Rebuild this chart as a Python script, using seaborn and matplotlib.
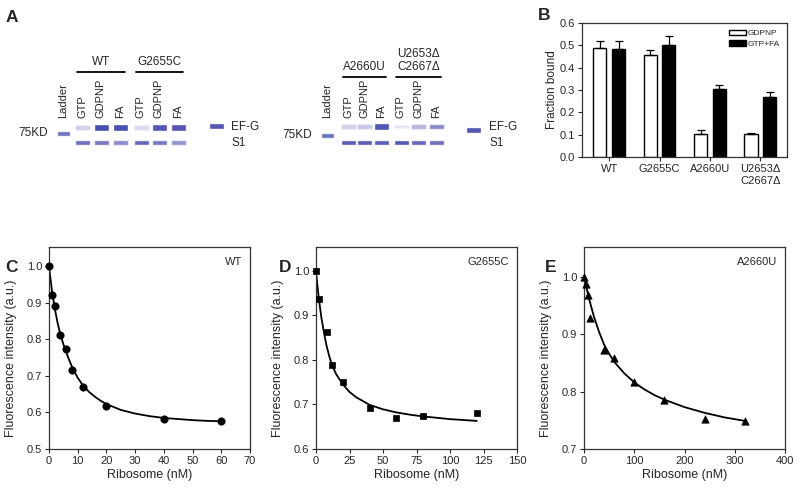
import numpy as np
import pandas as pd
import seaborn as sns
import matplotlib.pyplot as plt

# ---------------- dados ----------------
# painel A: intensidade relativa das bandas do gel (0 = sem banda, 1 = banda forte)
gel_conditions = ['GTP', 'GDPNP', 'FA']
gel_left_groups = ['WT', 'G2655C']
gel_right_groups = ['A2660U', 'U2653Δ\nC2667Δ']
efg_left = [0.25, 1.00, 1.00, 0.20, 0.95, 0.95]
s1_left = [0.80, 0.75, 0.65, 0.85, 0.75, 0.60]
efg_right = [0.25, 0.30, 0.95, 0.15, 0.40, 0.65]
s1_right = [0.90, 0.90, 0.90, 0.95, 0.85, 0.80]
ladder_band = 0.80
efg_marker_band = 0.95

# painel B: fracao ligada
mutants = ['WT', 'G2655C', 'A2660U', 'U2653Δ\nC2667Δ']
gdpnp = [0.490, 0.455, 0.105, 0.105]
gdpnp_err = [0.030, 0.024, 0.015, 0.003]
gtp_fa = [0.485, 0.500, 0.306, 0.270]
gtp_fa_err = [0.035, 0.040, 0.015, 0.021]

# painel C: WT
wt_x = [0, 1, 2, 4, 6, 8, 12, 20, 40, 60]
wt_y = [1.000, 0.922, 0.892, 0.811, 0.774, 0.715, 0.670, 0.619, 0.583, 0.578]
wt_fit_x = [0, 1, 2, 3, 4, 5, 6, 7, 8, 10, 12, 14, 16, 18, 20, 25, 30, 35, 40, 45, 50, 55, 60]
wt_fit_y = [1.000, 0.935, 0.885, 0.845, 0.812, 0.787, 0.765, 0.744, 0.725, 0.695, 0.672,
            0.656, 0.643, 0.632, 0.623, 0.607, 0.597, 0.590, 0.585, 0.582, 0.579, 0.577, 0.576]

# painel D: G2655C
g_x = [0, 2, 8, 12, 20, 40, 60, 80, 120]
g_y = [1.000, 0.937, 0.863, 0.789, 0.750, 0.693, 0.670, 0.675, 0.680]
g_fit_x = [0, 1, 2, 4, 6, 8, 10, 12, 15, 20, 25, 30, 40, 50, 60, 70, 80, 100, 120]
g_fit_y = [1.000, 0.968, 0.940, 0.895, 0.860, 0.830, 0.807, 0.788, 0.768, 0.745, 0.728,
           0.716, 0.699, 0.689, 0.682, 0.677, 0.673, 0.667, 0.663]

# painel E: A2660U
a_x = [0, 4, 8, 12, 40, 60, 100, 160, 240, 320]
a_y = [1.000, 0.988, 0.969, 0.929, 0.873, 0.859, 0.816, 0.785, 0.752, 0.748]
a_fit_x = [0, 10, 20, 30, 40, 50, 60, 80, 100, 120, 140, 160, 200, 240, 280, 320]
a_fit_y = [1.000, 0.962, 0.930, 0.904, 0.882, 0.866, 0.852, 0.832, 0.816, 0.804, 0.794,
           0.786, 0.773, 0.763, 0.755, 0.749]

# ---------------- estilo ----------------
sns.set_style('ticks')
plt.rcParams['font.family'] = ['Liberation Sans', 'DejaVu Sans']
plt.rcParams['axes.edgecolor'] = '#333333'
plt.rcParams['axes.linewidth'] = 0.9
plt.rcParams['xtick.major.size'] = 3
plt.rcParams['ytick.major.size'] = 3
plt.rcParams['xtick.major.width'] = 0.8
plt.rcParams['ytick.major.width'] = 0.8
plt.rcParams['xtick.labelsize'] = 8
plt.rcParams['ytick.labelsize'] = 8
plt.rcParams['xtick.major.pad'] = 2
plt.rcParams['ytick.major.pad'] = 2

BAND = '#4a4eae'


def desenhar_gel(ax, lanes, efg, s1, groups, ladder_x, ladder_y, marker_x, marker_y,
                 row_efg, row_s1, group_y, line_y, label_x):
    # bandas
    ax.bar(ladder_x, 5, bottom=ladder_y - 2.5, width=13, color=BAND, alpha=ladder_band)
    for x, a in zip(lanes, efg):
        h = 3.5 + 3 * a  # bandas fracas ficam mais finas
        ax.bar(x, h, bottom=row_efg - h / 2, width=15, color=BAND, alpha=a)
    for x, a in zip(lanes, s1):
        ax.bar(x, 5.5, bottom=row_s1 - 2.75, width=15, color=BAND, alpha=a)
    ax.bar(marker_x, 6, bottom=marker_y - 3, width=15, color=BAND, alpha=efg_marker_band)

    # nomes das pistas
    ax.text(ladder_x, 118, 'Ladder', rotation=90, ha='center', va='bottom', fontsize=8)
    for x, cond in zip(lanes, gel_conditions * 2):
        ax.text(x, 118, cond, rotation=90, ha='center', va='bottom', fontsize=8)

    # grupos com barra por cima
    for i, g in enumerate(groups):
        xs = lanes[i * 3:(i + 1) * 3]
        ax.plot([xs[0] - 5, xs[-1] + 5], [line_y, line_y], color='black', lw=1.3)
        ax.text(np.mean(xs), group_y, g, ha='center', va='bottom', fontsize=8.5,
                linespacing=1.15)

    ax.text(ladder_x - 15, ladder_y, '75KD', ha='right', va='center', fontsize=8.5)
    ax.text(label_x, row_efg, 'EF-G', ha='left', va='center', fontsize=8.5)
    ax.text(label_x, row_s1 + 1, 'S1', ha='left', va='center', fontsize=8.5)


def grafico_barras(fig):
    ax = fig.add_axes([582 / 800, 1 - 157 / 488, 205 / 800, 134 / 488])
    df = pd.DataFrame({
        'Mutante': mutants * 2,
        'Fracao': gdpnp + gtp_fa,
        'Condicao': ['GDPNP'] * 4 + ['GTP+FA'] * 4,
    })
    sns.barplot(data=df, x='Mutante', y='Fracao', hue='Condicao', palette=['white', 'black'],
                edgecolor='black', linewidth=1, width=0.74, gap=0.3, errorbar=None, ax=ax)
    for cont, err in zip(ax.containers, [gdpnp_err, gtp_fa_err]):
        xs = [p.get_x() + p.get_width() / 2 for p in cont]
        ys = [p.get_height() for p in cont]
        ax.errorbar(xs, ys, yerr=[np.zeros(len(err)), err], fmt='none', ecolor='black',
                    elinewidth=0.9, capsize=3, capthick=0.9)
    ax.set_xlim(-0.54, 3.53)
    ax.set_ylim(0, 0.6)
    ax.set_yticks(np.arange(0, 0.61, 0.1))
    ax.set_xlabel('')
    ax.set_ylabel('Fraction bound', fontsize=8.5, labelpad=1)
    ax.tick_params(axis='x', labelsize=8)
    ax.legend(loc='upper right', frameon=False, fontsize=6, handlelength=2.0,
              handleheight=0.7, handletextpad=0.3, labelspacing=0.3,
              borderaxespad=0.4, title=None)


def grafico_curva(fig, left, x, y, fx, fy, marker, msize, xlim, xticks, ylim, yticks, nome):
    ax = fig.add_axes([left / 800, 1 - 449 / 488, 201 / 800, 202 / 488])
    sns.lineplot(x=fx, y=fy, color='black', lw=1.3, ax=ax)
    sns.scatterplot(x=x, y=y, marker=marker, s=msize, color='black', edgecolor='black',
                    linewidth=0.5, zorder=3, clip_on=False, ax=ax)
    ax.set_xlim(*xlim)
    ax.set_ylim(*ylim)
    ax.set_xticks(xticks)
    ax.set_yticks(yticks)
    ax.set_xlabel('Ribosome (nM)', fontsize=9, labelpad=2)
    ax.set_ylabel('Fluorescence intensity (a.u.)', fontsize=9)
    # rotulo do eixo y um pouco abaixo do centro, como no original
    ax.yaxis.set_label_coords(-0.16, 0.45)
    ax.text(0.96, 0.925, nome, transform=ax.transAxes, ha='right', va='center', fontsize=8)
    return ax


def main():
    fig = plt.figure(figsize=(8, 4.88), dpi=100)

    # eixo auxiliar em pixels para o gel e as letras
    gel = fig.add_axes([0, 0, 1, 1])
    gel.set_xlim(0, 800)
    gel.set_ylim(488, 0)
    gel.axis('off')

    desenhar_gel(gel, [82, 101, 120, 141, 159, 178], efg_left, s1_left, gel_left_groups,
                 ladder_x=63, ladder_y=133, marker_x=216, marker_y=126,
                 row_efg=127.5, row_s1=142.5, group_y=68, line_y=72, label_x=231)
    desenhar_gel(gel, [348, 364, 381, 401, 418, 436], efg_right, s1_right, gel_right_groups,
                 ladder_x=327, ladder_y=135.5, marker_x=473, marker_y=130,
                 row_efg=126.5, row_s1=142.5, group_y=73, line_y=76.5, label_x=489)

    for letra, (x, y) in zip('ABCDE', [(6, 18), (538, 16), (5, 268), (279, 268), (545, 268)]):
        gel.text(x, y, letra, fontsize=12.5, fontweight='bold', ha='left', va='center')

    grafico_barras(fig)

    grafico_curva(fig, 49, wt_x, wt_y, wt_fit_x, wt_fit_y, 'o', 28,
                  (0, 70), range(0, 71, 10), (0.5, 1.053), [0.5, 0.6, 0.7, 0.8, 0.9, 1.0], 'WT')
    grafico_curva(fig, 316, g_x, g_y, g_fit_x, g_fit_y, 's', 24,
                  (0, 150), range(0, 151, 25), (0.6, 1.053), [0.6, 0.7, 0.8, 0.9, 1.0], 'G2655C')
    grafico_curva(fig, 584, a_x, a_y, a_fit_x, a_fit_y, '^', 28,
                  (0, 400), range(0, 401, 100), (0.7, 1.052), [0.7, 0.8, 0.9, 1.0], 'A2660U')

    fig.savefig('out.png', dpi=100)
    plt.close(fig)


if __name__ == '__main__':
    main()
